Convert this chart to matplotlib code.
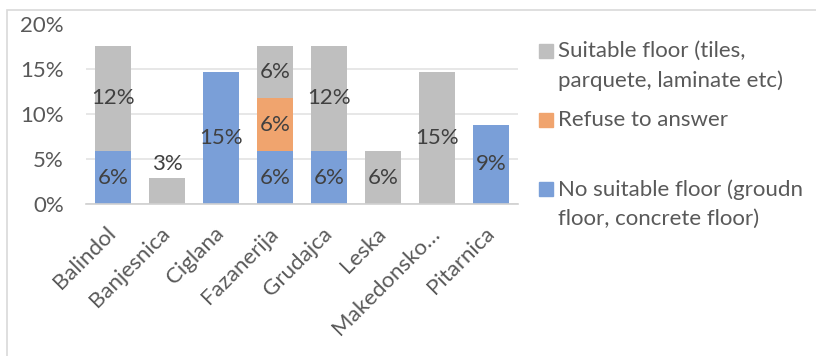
import numpy as np
import matplotlib.pyplot as plt
from matplotlib.patches import Rectangle

# --- data (percent of households) ---
villages = ["Balindol", "Banjesnica", "Ciglana", "Fazanerija", "Grudajca",
            "Leska", "Makedonsko…", "Pitarnica"]
no_suitable = [5.88, 0, 14.71, 5.88, 5.88, 0, 0, 8.82]
refuse = [0, 0, 0, 5.88, 0, 0, 0, 0]
suitable = [11.76, 2.94, 0, 5.88, 11.76, 5.88, 14.71, 0]

series_names = ["No suitable floor (groudn\nfloor, concrete floor)",
                "Refuse to answer",
                "Suitable floor (tiles,\nparquete, laminate etc)"]
colors = ["#7A9FD8", "#F0A46E", "#BFBFBF"]

plt.rcParams['font.family'] = ['Lato', 'DejaVu Sans']
txt = "#595959"
fs = 16

fig = plt.figure(figsize=(8.16, 3.56), dpi=100)
ax = fig.add_axes([86 / 816, 1 - 204 / 356, 432 / 816, 179.5 / 356])

# chart frame
fig.patches.append(Rectangle((7 / 816, -0.2), 2, 1.2 - 10 / 356, transform=fig.transFigure,
                             fill=False, edgecolor="#D9D9D9", lw=1.2))

x = np.arange(len(villages))
bottom = np.zeros(len(villages))
for vals, col in zip([no_suitable, refuse, suitable], colors):
    vals = np.array(vals)
    ax.bar(x, vals, width=0.667, bottom=bottom, color=col, zorder=2)
    for xi, b, v in zip(x, bottom, vals):
        if v <= 0:
            continue
        if v < 4:
            ax.text(xi, b + v + 0.4, f"{v:.0f}%", ha="center", va="bottom",
                    fontsize=fs, color="#404040", zorder=3)
        else:
            ax.text(xi, b + v / 2, f"{v:.0f}%", ha="center", va="center",
                    fontsize=fs, color="#404040", zorder=3)
    bottom += vals

ax.set_xlim(-0.5, len(villages) - 0.5)
ax.set_ylim(0, 20)
ax.set_yticks([0, 5, 10, 15, 20])
ax.set_yticklabels([f"{t}%" for t in [0, 5, 10, 15, 20]])
ax.yaxis.grid(True, color="#E3E3E3", lw=1.2, zorder=0)
ax.set_axisbelow(True)
for s in ["top", "right", "left"]:
    ax.spines[s].set_visible(False)
ax.spines["bottom"].set_color("#D0D0D0")
ax.spines["bottom"].set_linewidth(1.2)
ax.tick_params(axis="both", length=0, labelsize=fs, colors=txt)
ax.tick_params(axis="y", pad=16)
ax.set_xticks(x)
ax.set_xticklabels(villages, rotation=45, ha="right", va="center", rotation_mode="anchor")
ax.tick_params(axis="x", pad=19)

# legend (Excel style, drawn by hand)
leg_rows = [(series_names[2], colors[2], 51), (series_names[1], colors[1], 120),
            (series_names[0], colors[0], 189)]
for name, col, yc in leg_rows:
    fig.patches.append(Rectangle((539 / 816, 1 - (yc + 7) / 356), 14 / 816, 14 / 356,
                                 transform=fig.transFigure, color=col))
    fig.text(558 / 816, 1 - (yc - 10) / 356, name, ha="left", va="top",
             fontsize=fs, color=txt, linespacing=1.55)

fig.savefig("out.png", dpi=100)
